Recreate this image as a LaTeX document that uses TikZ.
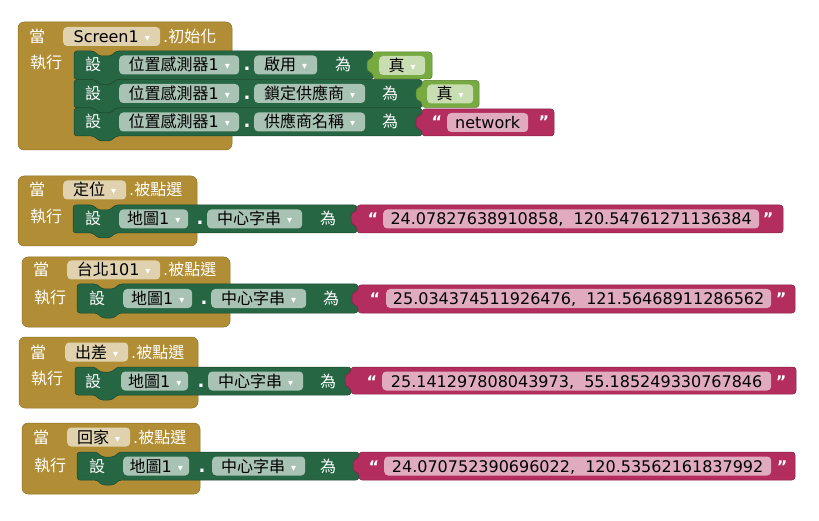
\documentclass[tikz,border=0pt]{standalone}
\usepackage{fontspec}
\setmainfont{DejaVu Sans}
\newfontfamily\cjk{Noto Sans CJK TC}
\usepackage{xcolor}
\definecolor{cEvt}{HTML}{B18E35}
\definecolor{cSet}{HTML}{266643}
\definecolor{cBool}{HTML}{77AB41}
\definecolor{cStr}{HTML}{B32D5E}
\usetikzlibrary{positioning}
\newcommand{\zh}[1]{{\cjk #1}}
\newcommand{\dd}{\hspace{6pt}\raisebox{1pt}{\fontsize{10}{10}\selectfont\textcolor{white}{▾}}}
\tikzset{
  blk-evt/.style={fill=cEvt,draw=cEvt!80!black,line width=0.5pt,rounded corners=6pt},
  blk-set/.style={fill=cSet,draw=cSet!70!black,line width=0.5pt,rounded corners=3pt},
  blk-bool/.style={fill=cBool,draw=cBool!75!black,line width=0.5pt,rounded corners=3pt},
  blk-str/.style={fill=cStr,draw=cStr!75!black,line width=0.5pt,rounded corners=3pt},
  txt/.style={text=white,font=\fontsize{16}{18}\selectfont,inner sep=0pt,
    text height=14pt,text depth=2pt},
  dot/.style={txt,font=\bfseries\fontsize{18}{18}\selectfont},
  fld/.style={rounded corners=4pt,anchor=west,minimum height=19pt,inner xsep=5pt,
    inner ysep=0pt,text=black,font=\fontsize{16}{18}\selectfont,text height=14pt,text depth=2pt},
  fld-evt/.style={fld,fill=cEvt!40!white},
  fld-set/.style={fld,fill=cSet!40!white},
  fld-bool/.style={fld,fill=cBool!40!white},
  fld-str/.style={fld,fill=cStr!40!white},
  quote/.style={txt,font=\bfseries\fontsize{16}{18}\selectfont},
}
\begin{document}
\begin{tikzpicture}[x=1pt,y=-1pt]
  \fill[white] (0,0) rectangle (819,521);
  \useasboundingbox (0,0) rectangle (819,521);
  % event blocks
  \draw[blk-evt] (18,22) rectangle (232,150);
  \draw[blk-evt] (18,176) rectangle (197,246);
  \draw[blk-evt] (22,257) rectangle (230,327);
  \draw[blk-evt] (19,337) rectangle (198,408);
  \draw[blk-evt] (22,423) rectangle (200,494);
  % setter statements
  \foreach \x/\t/\r/\b in {74/51/373/79.5, 74/79.5/422/108, 74/108/422/136,
      73/205/357/233, 77/284/358/313, 75/367/351/395, 77/452/359/480}
    \draw[blk-set] (\x,\t) -- ({\x+20},\t) -- ({\x+25},{\t+5}) -- ({\x+37},{\t+5})
      -- ({\x+42},\t) -- (\r,\t) -- (\r,\b) -- ({\x+42},\b) -- ({\x+37},{\b+5})
      -- ({\x+25},{\b+5}) -- ({\x+20},\b) -- (\x,\b) -- cycle;
  % value blocks
  \foreach \l/\t/\r/\b/\s in {373/52/432/79/blk-bool, 422/80.5/479/107.5/blk-bool,
      422/109/554/136/blk-str, 357/205/783/233/blk-str, 358/285/795/313/blk-str,
      351/367/796/394/blk-str, 359/452/795/480/blk-str}
    \draw[\s] (\l,\t) -- (\r,\t) -- (\r,\b) -- (\l,\b) -- (\l,{\t+21})
      -- ({\l-6},{\t+19}) -- ({\l-6},{\t+8}) -- (\l,{\t+6}) -- cycle;

  % Screen1.初始化
  \node[txt] (w1) at (37,36.5) {\zh{當}};
  \node[fld-evt,minimum width=97pt] (c1) at (63,36.5) {Screen1\dd};
  \node[txt,anchor=west] (e1) at (163,36.5) {.\zh{初始化}};
  \node[txt] (d1) at (46,63) {\zh{執行}};
  \node[txt] (s11) at (93,65) {\zh{設}};
  \node[fld-set,minimum width=120pt] (o11) at (119,65) {\zh{位置感測器}1\dd};
  \node[dot] (p11) at (247,65) {.};
  \node[fld-set,minimum width=63pt] (a11) at (254,65) {\zh{啟用}\dd};
  \node[txt] (t11) at (343,65) {\zh{為}};
  \node[fld-bool,minimum width=46pt] (v11) at (379,65.5) {\zh{真}\dd};
  \node[txt] (s12) at (93,93.5) {\zh{設}};
  \node[fld-set,minimum width=120pt] (o12) at (119,93.5) {\zh{位置感測器}1\dd};
  \node[dot] (p12) at (247,93.5) {.};
  \node[fld-set,minimum width=111pt] (a12) at (254,93.5) {\zh{鎖定供應商}\dd};
  \node[txt] (t12) at (390,93.5) {\zh{為}};
  \node[fld-bool,minimum width=46pt] (v12) at (427,94) {\zh{真}\dd};
  \node[txt] (s13) at (93,122) {\zh{設}};
  \node[fld-set,minimum width=120pt] (o13) at (119,122) {\zh{位置感測器}1\dd};
  \node[dot] (p13) at (247,122) {.};
  \node[fld-set,minimum width=111pt] (a13) at (254,122) {\zh{供應商名稱}\dd};
  \node[txt] (t13) at (390,122) {\zh{為}};
  \node[quote] (q13) at (437,122) {“};
  \node[fld-str,minimum width=81pt] (v13) at (447,122.5) {network};
  \node[quote] (r13) at (544,122) {”};

  % 定位.被點選
  \node[txt] (w2) at (37,190) {\zh{當}};
  \node[fld-evt,minimum width=63pt] (c2) at (63,190) {\zh{定位}\dd};
  \node[txt,anchor=west] (e2) at (129,190) {.\zh{被點選}};
  \node[txt] (d2) at (46,217) {\zh{執行}};
  \node[txt] (s2) at (93,219) {\zh{設}};
  \node[fld-set,minimum width=69pt] (o2) at (119,219) {\zh{地圖}1\dd};
  \node[dot] (p2) at (200,219) {.};
  \node[fld-set,minimum width=95pt] (a2) at (207,219) {\zh{中心字串}\dd};
  \node[txt] (t2) at (328,219) {\zh{為}};
  \node[quote] (q2) at (373,219) {“};
  \node[fld-str,minimum width=376pt] (v2) at (383,219) {24.07827638910858,\ \ 120.54761271136384};
  \node[quote] (r2) at (768,219) {”};

  % 台北101.被點選
  \node[txt] (w3) at (41,270) {\zh{當}};
  \node[fld-evt,minimum width=93pt] (c3) at (67,270) {\zh{台北}101\dd};
  \node[txt,anchor=west] (e3) at (163,270) {.\zh{被點選}};
  \node[txt] (d3) at (50,297) {\zh{執行}};
  \node[txt] (s3) at (97,298.5) {\zh{設}};
  \node[fld-set,minimum width=69pt] (o3) at (123,298.5) {\zh{地圖}1\dd};
  \node[dot] (p3) at (204,298.5) {.};
  \node[fld-set,minimum width=95pt] (a3) at (211,298.5) {\zh{中心字串}\dd};
  \node[txt] (t3) at (331,298.5) {\zh{為}};
  \node[quote] (q3) at (375,298.5) {“};
  \node[fld-str,minimum width=385pt] (v3) at (386,298.5) {25.034374511926476,\ \ 121.56468911286562};
  \node[quote] (r3) at (781,298.5) {”};

  % 出差.被點選
  \node[txt] (w4) at (38,352) {\zh{當}};
  \node[fld-evt,minimum width=63pt] (c4) at (65,352) {\zh{出差}\dd};
  \node[txt,anchor=west] (e4) at (131,352) {.\zh{被點選}};
  \node[txt] (d4) at (47,378) {\zh{執行}};
  \node[txt] (s4) at (93,381) {\zh{設}};
  \node[fld-set,minimum width=67pt] (o4) at (121,381) {\zh{地圖}1\dd};
  \node[dot] (p4) at (201,381) {.};
  \node[fld-set,minimum width=95pt] (a4) at (208,381) {\zh{中心字串}\dd};
  \node[txt] (t4) at (328,381) {\zh{為}};
  \node[quote] (q4) at (372,381) {“};
  \node[fld-str,minimum width=389pt] (v4) at (382,381) {25.141297808043973,\ \ 55.185249330767846};
  \node[quote] (r4) at (781,381) {”};

  % 回家.被點選
  \node[txt] (w5) at (41,437) {\zh{當}};
  \node[fld-evt,minimum width=63pt] (c5) at (67,437) {\zh{回家}\dd};
  \node[txt,anchor=west] (e5) at (133,437) {.\zh{被點選}};
  \node[txt] (d5) at (50,465) {\zh{執行}};
  \node[txt] (s5) at (97,466) {\zh{設}};
  \node[fld-set,minimum width=66pt] (o5) at (123,466) {\zh{地圖}1\dd};
  \node[dot] (p5) at (202,466) {.};
  \node[fld-set,minimum width=93pt] (a5) at (212,466) {\zh{中心字串}\dd};
  \node[txt] (t5) at (328,466) {\zh{為}};
  \node[quote] (q5) at (374,466) {“};
  \node[fld-str,minimum width=387pt] (v5) at (384,466) {24.070752390696022,\ \ 120.53562161837992};
  \node[quote] (r5) at (782,466) {”};
\end{tikzpicture}
\end{document}
